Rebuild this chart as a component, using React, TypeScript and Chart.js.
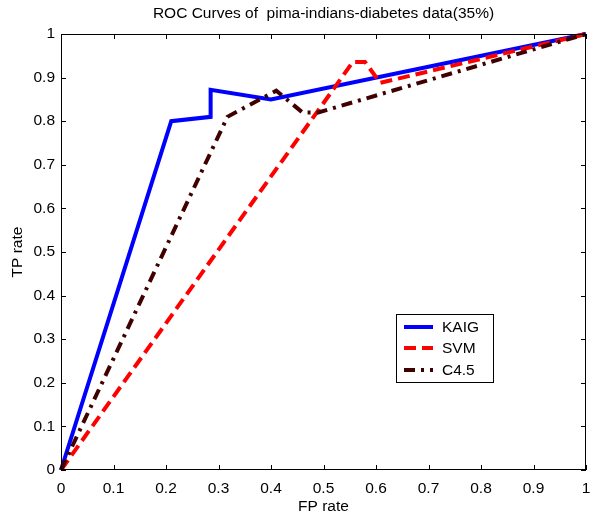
import React, { useEffect, useRef } from "react";
import { Chart, registerables } from "chart.js";

Chart.register(...registerables);

const chartTitle = "ROC Curves of  pima-indians-diabetes data(35%)";
const xTitle = "FP rate";
const yTitle = "TP rate";

const seriesNames = ["KAIG", "SVM", "C4.5"];
const kaigFp = [0, 0.21, 0.285, 0.285, 0.4, 1];
const kaigTp = [0, 0.8, 0.81, 0.872, 0.85, 1];
const svmFp = [0, 0.556, 0.579, 0.608, 1];
const svmTp = [0, 0.936, 0.936, 0.888, 1];
const c45Fp = [0, 0.317, 0.41, 0.46, 0.49, 1];
const c45Tp = [0, 0.81, 0.87, 0.82, 0.82, 1];

const colors = ["#0000ff", "#ff0000", "#400000"];
const dashes: number[][] = [[], [12, 6], [11, 6, 3, 6]];

const FONT = "'Liberation Sans', Arial, sans-serif";
const FS = 15.5;

const toPts = (xs: number[], ys: number[]) => xs.map((x, i) => ({ x, y: ys[i] }));
const fmt = (v: any) => String(Math.round(Number(v) * 10) / 10);

const decorPlugin = {
  id: "decor",
  afterDraw(chart: any) {
    const ctx = chart.ctx as CanvasRenderingContext2D;
    const a = chart.chartArea;
    const xs = chart.scales.x;
    const ys = chart.scales.y;
    ctx.save();
    ctx.strokeStyle = "#000";
    ctx.lineWidth = 1;
    ctx.setLineDash([]);
    ctx.strokeRect(a.left + 0.5, a.top + 0.5, a.right - a.left - 1, a.bottom - a.top - 1);
    const tl = 5;
    ctx.beginPath();
    xs.ticks.forEach((t: any) => {
      const px = Math.round(xs.getPixelForValue(t.value)) + 0.5;
      ctx.moveTo(px, a.bottom);
      ctx.lineTo(px, a.bottom - tl);
      ctx.moveTo(px, a.top);
      ctx.lineTo(px, a.top + tl);
    });
    ys.ticks.forEach((t: any) => {
      const py = Math.round(ys.getPixelForValue(t.value)) + 0.5;
      ctx.moveTo(a.left, py);
      ctx.lineTo(a.left + tl, py);
      ctx.moveTo(a.right, py);
      ctx.lineTo(a.right - tl, py);
    });
    ctx.stroke();
    ctx.fillStyle = "#000";
    ctx.font = `${FS}px ${FONT}`;
    ctx.textAlign = "center";
    ctx.textBaseline = "middle";
    ctx.fillText(chartTitle, (a.left + a.right) / 2, 14);
    ctx.fillText(xTitle, (a.left + a.right) / 2, 507);
    ctx.save();
    ctx.translate(18, (a.top + a.bottom) / 2);
    ctx.rotate(-Math.PI / 2);
    ctx.fillText(yTitle, 0, 0);
    ctx.restore();
    const lx = 396.5, ly = 314.5, lw = 97, lh = 68;
    ctx.fillStyle = "#fff";
    ctx.fillRect(lx, ly, lw, lh);
    ctx.strokeStyle = "#000";
    ctx.lineWidth = 1;
    ctx.strokeRect(lx, ly, lw, lh);
    const rows = [327, 348, 370];
    seriesNames.forEach((name, i) => {
      ctx.beginPath();
      ctx.strokeStyle = colors[i];
      ctx.lineWidth = 4;
      ctx.setLineDash(dashes[i]);
      ctx.moveTo(404, rows[i]);
      ctx.lineTo(433, rows[i]);
      ctx.stroke();
      ctx.setLineDash([]);
      ctx.fillStyle = "#000";
      ctx.font = `${FS}px ${FONT}`;
      ctx.textAlign = "left";
      ctx.textBaseline = "middle";
      ctx.fillText(name, 442, rows[i] + 1);
    });
    ctx.restore();
  },
};

export default function App() {
  const ref = useRef<HTMLCanvasElement | null>(null);
  useEffect(() => {
    if (!ref.current) return;
    const data = [toPts(kaigFp, kaigTp), toPts(svmFp, svmTp), toPts(c45Fp, c45Tp)];
    const chart = new Chart(ref.current, {
      type: "line",
      data: {
        datasets: seriesNames.map((name, i) => ({
          label: name,
          data: data[i],
          borderColor: colors[i],
          backgroundColor: colors[i],
          borderWidth: 4,
          borderDash: dashes[i],
          borderCapStyle: "butt",
          pointRadius: 0,
          tension: 0,
          fill: false,
          clip: 4,
          order: 3 - i,
        })),
      },
      options: {
        animation: false,
        responsive: false,
        maintainAspectRatio: false,
        layout: { padding: { top: 34, right: 5, left: 0, bottom: 0 } },
        plugins: { legend: { display: false }, title: { display: false }, tooltip: { enabled: false } },
        scales: {
          x: {
            type: "linear",
            min: 0,
            max: 1,
            grid: { display: false, drawTicks: false },
            border: { display: false },
            ticks: { stepSize: 0.1, padding: 9, color: "#000", font: { family: FONT, size: FS }, maxRotation: 0, autoSkip: false, callback: fmt },
            afterFit: (s: any) => { s.height = 49; s.paddingLeft = 0; s.paddingRight = 0; },
          },
          y: {
            type: "linear",
            min: 0,
            max: 1,
            grid: { display: false, drawTicks: false },
            border: { display: false },
            ticks: { stepSize: 0.1, padding: 6, color: "#000", font: { family: FONT, size: FS }, autoSkip: false, callback: fmt },
            afterFit: (s: any) => { s.width = 61; s.paddingTop = 0; s.paddingBottom = 0; },
          },
        },
      } as any,
      plugins: [decorPlugin],
    });
    return () => chart.destroy();
  }, []);
  return (
    <div style={{ position: "fixed", left: 0, top: 0, width: 591, height: 519, background: "#fff" }}>
      <canvas ref={ref} width={591} height={519} style={{ display: "block" }} />
    </div>
  );
}
